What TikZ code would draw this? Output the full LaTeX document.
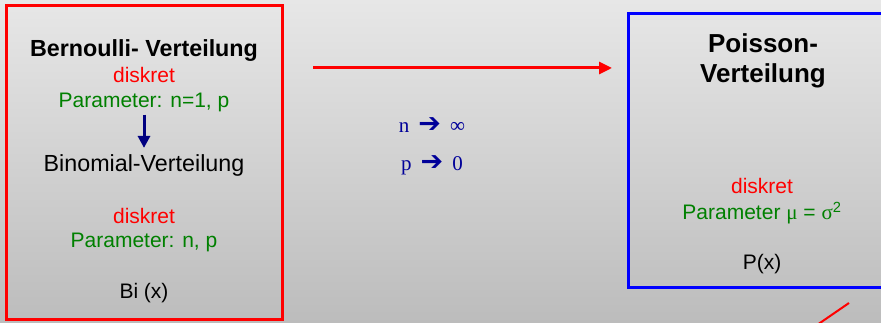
\documentclass[tikz,border=0pt]{standalone}
\usepackage{fontspec}
\setmainfont{Liberation Sans}
\newfontfamily\timesfont{Liberation Serif}
\newfontfamily\arrowfont{DejaVu Sans}
\usetikzlibrary{arrows.meta}
\definecolor{bgtop}{RGB}{231,231,231}
\definecolor{bgbottom}{RGB}{188,188,188}
\definecolor{pargreen}{RGB}{0,128,0}
\definecolor{limblue}{RGB}{0,0,153}
\definecolor{navyarrow}{RGB}{0,0,128}

\begin{document}
\begin{tikzpicture}[x=1pt,y=1pt,
  txt/.style={anchor=base,inner sep=0pt,font=\fontsize{21}{25}\selectfont},
  bigtxt/.style={anchor=base,inner sep=0pt,font=\fontsize{23.3}{28}\selectfont},
  title/.style={anchor=base,inner sep=0pt,font=\fontsize{23.3}{28}\selectfont\bfseries},
  bigtitle/.style={anchor=base,inner sep=0pt,font=\fontsize{26}{30}\selectfont\bfseries},
  limtxt/.style={anchor=base,inner sep=0pt,text=limblue,font=\fontsize{21}{25}\selectfont\timesfont},
  distbox/.style={draw,line width=3pt,inner sep=0pt}]
 % background
  \clip (0,0) rectangle (881,323);
  \shade[top color=bgtop,bottom color=bgbottom] (0,0) rectangle (881,323);

 % Bernoulli / Binomial
  \node[distbox,draw=red,minimum width=276,minimum height=314] (lbox) at (144,160) {};
  \node[title] (bern) at (144,266) {Bernoulli- Verteilung};
  \node[txt,text=red] (disk1) at (144,240) {diskret};
  \node[txt,text=pargreen] (par1) at (144,215) {Parameter: n=1, p};
  \node[bigtxt] (binom) at (144,151) {Binomial-Verteilung};
  \node[txt,text=red] (disk2) at (144,99) {diskret};
  \node[txt,text=pargreen] (par2) at (144,75) {Parameter: n, p};
  \node[txt] (bi) at (144,24) {Bi (x)};
  \draw[navyarrow,line width=3pt,-{Triangle[width=12pt,length=12pt]},
    shorten <=2pt,shorten >=7pt] (par1.south) -- (binom.north);

 % Poisson
  \node[distbox,draw=blue,minimum width=272,minimum height=274] (rbox) at (764,172) {};
  \node[bigtitle] (pois) at (763,270) {Poisson-};
  \node[bigtitle] (poisv) at (763,240) {Verteilung};
  \node[txt,text=red] (disk3) at (762,129) {diskret};
  \node[txt,text=pargreen] (par3) at (762,103)
    {Parameter {\timesfont μ} = {\timesfont σ}\textsuperscript{2}};
  \node[txt] (px) at (762,53) {P(x)};

 % limit
  \node[limtxt] (limn) at (432,190)
    {n\hspace{9pt}{\arrowfont\bfseries\fontsize{27}{30}\selectfont ➔}\hspace{9pt}∞};
  \node[limtxt] (limp) at (432,152)
    {p\hspace{9pt}{\arrowfont\bfseries\fontsize{27}{30}\selectfont ➔}\hspace{9pt}0};
  \coordinate (arrA) at (313,255);
  \coordinate (arrB) at (612,255);
  \draw[red,line width=3pt,-{Triangle[width=12pt,length=13pt]}] (arrA) -- (arrB);

 % stray line
  \coordinate (strA) at (817,-2);
  \coordinate (strB) at (849,20);
  \draw[red,line width=2pt] (strA) -- (strB);
\end{tikzpicture}
\end{document}
